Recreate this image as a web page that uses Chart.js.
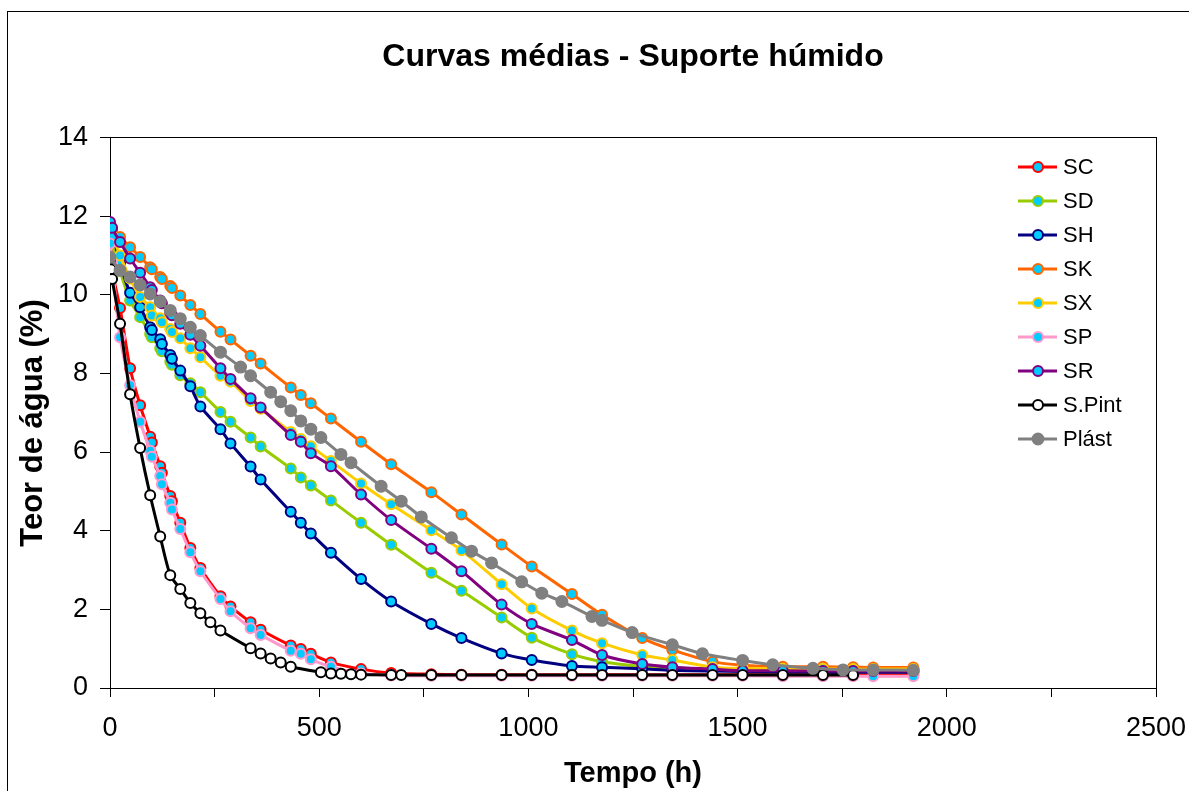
<!DOCTYPE html>
<html>
<head>
<meta charset="utf-8">
<script src="https://cdn.jsdelivr.net/npm/chart.js@4.4.0/dist/chart.umd.min.js"></script>
<style>
  html, body { margin: 0; padding: 0; background: #fff; }
</style>
</head>
<body>
<canvas id="curvasChart" width="1189" height="791"></canvas>
<script>
// tempos de leitura (h) comuns às séries SC ... SR
var tempos = [0, 5, 24, 48, 72, 96, 100, 120, 124, 144, 148, 168, 192, 216, 264, 288, 336, 360, 432, 456,
              480, 528, 600, 672, 768, 840, 936, 1008, 1104, 1176, 1272, 1344, 1440, 1512, 1608, 1704, 1776, 1824, 1920];

var sc = [11.0, 10.6, 9.66, 8.13, 7.19, 6.39, 6.24, 5.64, 5.47, 4.88, 4.75, 4.20, 3.56, 3.05, 2.33, 2.07, 1.67, 1.48, 1.08, 0.99,
          0.87, 0.65, 0.48, 0.38, 0.35, 0.34, 0.34, 0.34, 0.34, 0.34, 0.34, 0.34, 0.34, 0.34, 0.34, 0.34, 0.34, 0.34, 0.34];
var sd = [11.5, 11.3, 10.6, 9.85, 9.43, 9.00, 8.92, 8.64, 8.56, 8.30, 8.22, 7.95, 7.75, 7.52, 7.02, 6.77, 6.37, 6.14, 5.58, 5.35,
          5.15, 4.77, 4.20, 3.64, 2.93, 2.47, 1.79, 1.28, 0.86, 0.67, 0.55, 0.50, 0.47, 0.46, 0.45, 0.45, 0.45, 0.45, 0.45];
var sh = [11.7, 11.6, 10.8, 10.05, 9.68, 9.17, 9.10, 8.87, 8.75, 8.47, 8.37, 8.07, 7.67, 7.16, 6.58, 6.22, 5.63, 5.30, 4.48, 4.20,
          3.93, 3.44, 2.77, 2.20, 1.63, 1.27, 0.88, 0.71, 0.56, 0.53, 0.49, 0.45, 0.43, 0.42, 0.41, 0.40, 0.40, 0.40, 0.40];
var sk = [11.7, 11.6, 11.47, 11.21, 10.96, 10.70, 10.65, 10.45, 10.40, 10.22, 10.17, 9.98, 9.74, 9.51, 9.06, 8.86, 8.45, 8.25, 7.64, 7.45,
          7.24, 6.85, 6.26, 5.69, 4.98, 4.41, 3.65, 3.09, 2.39, 1.86, 1.27, 0.97, 0.67, 0.58, 0.54, 0.54, 0.53, 0.52, 0.52];
var sx = [11.6, 11.5, 11.0, 10.41, 9.94, 9.68, 9.47, 9.40, 9.30, 9.13, 9.05, 8.89, 8.64, 8.41, 7.94, 7.79, 7.30, 7.10, 6.51, 6.33,
          6.15, 5.77, 5.20, 4.67, 4.01, 3.50, 2.64, 2.02, 1.46, 1.14, 0.84, 0.71, 0.53, 0.50, 0.49, 0.49, 0.48, 0.48, 0.48];
var sp = [11.3, 10.8, 8.92, 7.70, 6.77, 6.03, 5.88, 5.39, 5.18, 4.71, 4.54, 4.04, 3.45, 2.97, 2.26, 1.95, 1.52, 1.35, 0.95, 0.87,
          0.73, 0.54, 0.37, 0.32, 0.31, 0.31, 0.31, 0.31, 0.31, 0.31, 0.31, 0.31, 0.31, 0.31, 0.30, 0.30, 0.30, 0.30, 0.30];
var sr = [11.85, 11.7, 11.34, 10.92, 10.56, 10.19, 10.12, 9.85, 9.78, 9.55, 9.48, 9.26, 8.98, 8.70, 8.13, 7.86, 7.37, 7.13, 6.43, 6.26,
          5.97, 5.64, 4.92, 4.27, 3.54, 2.97, 2.12, 1.63, 1.22, 0.84, 0.61, 0.53, 0.48, 0.44, 0.44, 0.43, 0.43, 0.43, 0.43];

// suporte pintado
var temposPint = [0, 2, 5, 24, 48, 72, 96, 120, 144, 168, 192, 216, 240, 264, 336, 360, 384, 408, 432, 504,
                  528, 552, 576, 600, 672, 696, 768, 840, 936, 1008, 1104, 1176, 1272, 1344, 1440, 1512, 1608, 1704, 1776];
var sPint = [10.9, 10.65, 10.4, 9.26, 7.47, 6.10, 4.90, 3.85, 2.87, 2.52, 2.16, 1.90, 1.67, 1.46, 1.01, 0.88, 0.75, 0.65, 0.54, 0.40,
             0.37, 0.36, 0.35, 0.34, 0.33, 0.33, 0.33, 0.33, 0.33, 0.33, 0.33, 0.33, 0.33, 0.33, 0.33, 0.33, 0.33, 0.33, 0.33];

// plástico
var temposPlast = [0, 24, 48, 72, 96, 120, 144, 168, 192, 216, 264, 312, 336, 384, 408, 432, 456, 480, 504, 552,
                   576, 648, 696, 744, 816, 864, 912, 984, 1032, 1080, 1152, 1176, 1248, 1344, 1416, 1512, 1584, 1680, 1752, 1824, 1920];
var plast = [10.95, 10.62, 10.45, 10.25, 10.02, 9.83, 9.60, 9.39, 9.17, 8.96, 8.54, 8.16, 7.94, 7.52, 7.28, 7.05, 6.79, 6.58, 6.37, 5.94,
             5.73, 5.13, 4.75, 4.35, 3.82, 3.48, 3.18, 2.70, 2.41, 2.20, 1.82, 1.72, 1.41, 1.10, 0.87, 0.70, 0.59, 0.50, 0.46, 0.46, 0.45];

var fonte = '"Liberation Sans", Arial, sans-serif';
var azul = '#00CCFF';

function pontos(xs, ys) {
    return xs.map(function (x, i) { return { x: x, y: ys[i] }; });
}

function serie(label, xs, ys, cor, fundo, raio) {
    return {
        label: label,
        data: pontos(xs, ys),
        borderColor: cor,
        borderWidth: 3,
        pointBackgroundColor: fundo,
        pointBorderColor: cor,
        pointBorderWidth: 2,
        pointRadius: raio,
        fill: false,
        tension: 0.25
    };
}

var series = [
    serie("SC", tempos, sc, "#FF0000", azul, 5),
    serie("SD", tempos, sd, "#99CC00", azul, 5),
    serie("SH", tempos, sh, "#000080", azul, 5),
    serie("SK", tempos, sk, "#FF6600", azul, 5),
    serie("SX", tempos, sx, "#FFCC00", azul, 5),
    serie("SP", tempos, sp, "#FF99CC", azul, 5),
    serie("SR", tempos, sr, "#800080", azul, 5),
    serie("S.Pint", temposPint, sPint, "#000000", "#FFFFFF", 5),
    serie("Plást", temposPlast, plast, "#808080", "#808080", 5.5)
];
// as últimas séries ficam por cima
series.forEach(function (s, i) { s.order = series.length - i; });

// moldura, caixa do gráfico, título do eixo y e legenda
var extras = {
    id: 'extras',
    beforeDatasetsDraw: function (chart) {
        var ctx = chart.ctx, a = chart.chartArea;
        ctx.save();
        ctx.strokeStyle = '#000';
        ctx.lineWidth = 1;
        ctx.strokeRect(Math.round(a.left) + 0.5, Math.round(a.top) + 0.5,
                       Math.round(a.right - a.left), Math.round(a.bottom - a.top));
        ctx.restore();
    },
    afterDraw: function (chart) {
        var ctx = chart.ctx;
        ctx.save();
        ctx.strokeStyle = '#000';
        ctx.lineWidth = 1;
        ctx.strokeRect(7.5, 11.5, 1200, 800);

        ctx.translate(33, 423);
        ctx.rotate(-Math.PI / 2);
        ctx.fillStyle = '#000';
        ctx.font = 'bold 31px ' + fonte;
        ctx.textAlign = 'center';
        ctx.textBaseline = 'middle';
        ctx.fillText('Teor de água (%)', 0, 0);
        ctx.restore();

        ctx.save();
        chart.data.datasets.forEach(function (ds, i) {
            var y = 167 + i * 34;
            ctx.strokeStyle = ds.borderColor;
            ctx.lineWidth = 3;
            ctx.beginPath();
            ctx.moveTo(1018, y);
            ctx.lineTo(1057, y);
            ctx.stroke();
            ctx.beginPath();
            ctx.arc(1038, y, ds.pointRadius, 0, Math.PI * 2);
            ctx.fillStyle = ds.pointBackgroundColor;
            ctx.fill();
            ctx.lineWidth = ds.pointBorderWidth;
            ctx.strokeStyle = ds.pointBorderColor;
            ctx.stroke();
            ctx.fillStyle = '#000';
            ctx.font = '22px ' + fonte;
            ctx.textAlign = 'left';
            ctx.textBaseline = 'middle';
            ctx.fillText(ds.label, 1063, y + 1);
        });
        ctx.restore();
    }
};

var ctx = document.getElementById("curvasChart");
var grafico = new Chart(ctx, {
    type: 'line',
    data: { datasets: series },
    plugins: [extras],
    options: {
        responsive: false,
        animation: false,
        devicePixelRatio: 1,
        layout: { padding: { left: 0, right: 33, top: 0, bottom: 0 } },
        plugins: {
            legend: { display: false },
            tooltip: { enabled: false },
            title: {
                display: true,
                text: 'Curvas médias - Suporte húmido',
                fullSize: false,
                color: '#000',
                font: { family: fonte, size: 32, weight: 'bold' },
                padding: { top: 38, bottom: 61 }
            }
        },
        scales: {
            x: {
                type: 'linear',
                min: 0,
                max: 2500,
                afterFit: function (s) { s.height = 103; s.paddingRight = 0; },
                ticks: {
                    stepSize: 250,
                    autoSkip: false,
                    maxRotation: 0,
                    color: '#000',
                    padding: 15,
                    font: { family: fonte, size: 27 },
                    callback: function (v) { return v % 500 === 0 ? v : ''; }
                },
                grid: { drawOnChartArea: false, tickLength: 9, color: '#000' },
                border: { color: '#000', width: 1 },
                title: {
                    display: true,
                    text: 'Tempo (h)',
                    color: '#000',
                    font: { family: fonte, size: 29, weight: 'bold' },
                    padding: { top: 0, bottom: 0 }
                }
            },
            y: {
                min: 0,
                max: 14,
                afterFit: function (s) { s.width = 110; },
                ticks: {
                    stepSize: 2,
                    color: '#000',
                    padding: 12,
                    font: { family: fonte, size: 27 }
                },
                grid: { drawOnChartArea: false, tickLength: 10, color: '#000' },
                border: { color: '#000', width: 1 }
            }
        }
    }
});
</script>
</body>
</html>
